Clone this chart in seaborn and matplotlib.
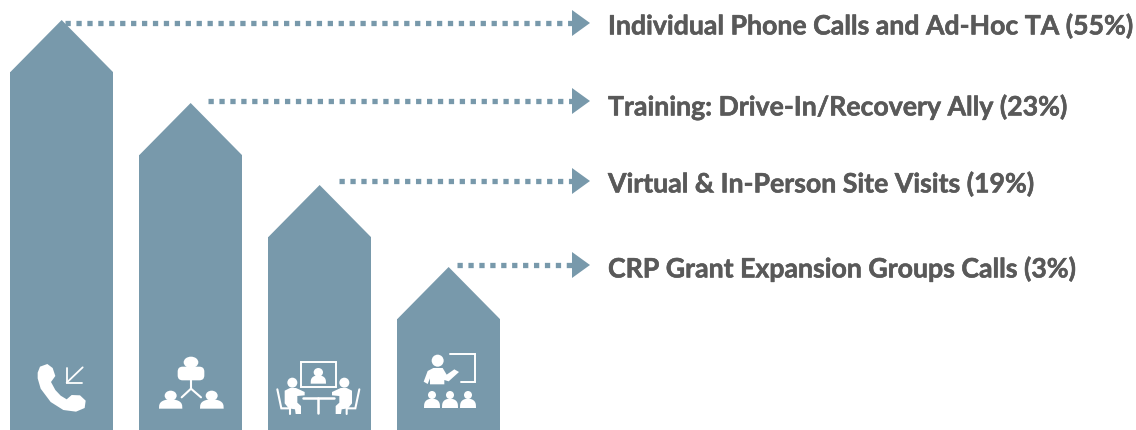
import matplotlib
matplotlib.use('Agg')
import matplotlib.pyplot as plt
import matplotlib.patheffects as pe
from matplotlib.patches import Ellipse, FancyBboxPatch, Polygon, Rectangle
import numpy as np
import pandas as pd
import seaborn as sns

activities = ['Individual Phone Calls and Ad-Hoc TA', 'Training: Drive-In/Recovery Ally',
              'Virtual & In-Person Site Visits', 'CRP Grant Expansion Groups Calls']
shares = [55, 23, 19, 3]
# arrow heights as drawn in the picture (they are not to scale with the shares)
tip_heights = [410, 327, 245, 163]

HEAD = 52
BLUE = '#7899AB'
GREY = '#595959'
WHITE = 'white'

sns.set_style('white')
plt.rcParams['font.family'] = ['Lato', 'Carlito', 'DejaVu Sans']

df = pd.DataFrame({'activity': activities, 'body': [t - HEAD for t in tip_heights]})

fig = plt.figure(figsize=(11.36, 4.30), dpi=100)
ax = fig.add_axes([0, 0, 1, 1])
sns.barplot(data=df, x='activity', y='body', color=BLUE, saturation=1, width=0.795, ax=ax,
            edgecolor=BLUE, linewidth=0)
ax.set_xlim(-0.478, 8.329)
ax.set_ylim(0, 430)
ax.axis('off')

# roofs on top of the bars, overlapping the body a little so no seam shows
for bar, tip in zip(ax.patches, tip_heights):
    x0 = bar.get_x()
    x1 = x0 + bar.get_width()
    base = tip - HEAD
    ax.fill([x0, (x0 + x1) / 2, x1, x1, x0], [base, tip, base, base - 2, base - 2], color=BLUE, lw=0)

# overlay in pixel coordinates for the leaders, text and icons
ov = fig.add_axes([0, 0, 1, 1], facecolor='none')
ov.set_xlim(0, 1136)
ov.set_ylim(430, 0)
ov.axis('off')

leader_x = [65, 208, 339, 457]
leader_y = [23, 101, 181, 265]
label_y = [26, 107, 184, 269]
for x, y, ty, name, share in zip(leader_x, leader_y, label_y, activities, shares):
    ov.plot([x, 573], [y, y], color=BLUE, lw=3.8, ls=(0, (1, 1.07)), dash_capstyle='butt')
    ov.add_patch(Polygon([(572, y - 13), (590, y), (572, y + 13)], color=BLUE, lw=0))
    ov.text(608, ty, f'{name} ({share}%)', color=GREY, fontsize=19.2, fontweight='bold',
            va='center', ha='left',
            path_effects=[pe.withStroke(linewidth=0.4, foreground=GREY)])


def px(points, ox, oy):
    # zoomed crop coordinates to picture pixels
    return [(ox + a / 3, oy + b / 3) for a, b in points]


def shape(points, ox, oy):
    ov.add_patch(Polygon(px(points, ox, oy), closed=True, color=WHITE, lw=0))


def stroke(points, ox, oy, lw=1.3):
    xy = np.array(px(points, ox, oy))
    ov.plot(xy[:, 0], xy[:, 1], color=WHITE, lw=lw, solid_capstyle='round', solid_joinstyle='miter')


def head(cx, cy, w, h, ox, oy):
    ov.add_patch(Ellipse((ox + cx / 3, oy + cy / 3), w / 3, h / 3, color=WHITE, lw=0))


def dome(x0, x1, top, bottom, ox, oy):
    t = np.linspace(np.pi, 0, 20)
    cx, rx = (x0 + x1) / 2, (x1 - x0) / 2
    pts = [(cx + rx * np.cos(a), bottom - (bottom - top) * np.sin(a) ** 0.6) for a in t]
    shape(pts, ox, oy)


def rounded(x0, x1, y0, y1, ox, oy, r=4):
    ov.add_patch(FancyBboxPatch((ox + x0 / 3 + r, oy + y0 / 3 + r), (x1 - x0) / 3 - 2 * r,
                                (y1 - y0) / 3 - 2 * r, boxstyle=f'round,pad={r}',
                                color=WHITE, lw=0))


# phone
o = (0, 340)
shape([(113, 98), (120, 80), (142, 72), (158, 84), (166, 108), (153, 126), (166, 150), (182, 167),
       (200, 178), (215, 165), (240, 166), (257, 182), (254, 204), (228, 215), (190, 210),
       (152, 186), (122, 146), (113, 115)], *o)
stroke([(248, 82), (200, 128)], *o)
stroke([(200, 85), (200, 128), (246, 128)], *o)

# network
head(573, 67, 44, 34, *o)
rounded(533, 613, 80, 121, *o, r=5)
stroke([(573, 120), (573, 146)], *o, lw=1.5)
stroke([(545, 172), (573, 146), (603, 172)], *o, lw=1.5)
head(512, 167, 36, 30, *o)
head(635, 167, 36, 30, *o)
dome(477, 547, 178, 206, *o)
dome(600, 671, 178, 206, *o)

# meeting
o = (260, 340)
ov.add_patch(Rectangle((o[0] + 123 / 3, o[1] + 67 / 3), 104 / 3, 73 / 3, fill=False, ec=WHITE, lw=1.4))
head(175, 97, 28, 26, *o)
dome(152, 198, 106, 131, *o)
stroke([(128, 175), (222, 175)], *o, lw=1.8)
stroke([(175, 175), (175, 220)], *o, lw=1.8)
for m in (False, True):
    f = (lambda p: [(350 - a, b) for a, b in p]) if m else (lambda p: p)
    head(350 - 97 if m else 97, 128, 30, 30, *o)
    shape(f([(74, 152), (90, 144), (108, 144), (134, 156), (134, 166), (112, 168), (112, 188), (123, 198),
             (123, 222), (107, 222), (105, 208), (86, 205), (74, 190)]), *o)
    stroke(f([(52, 148), (64, 205), (90, 205), (90, 222)]), *o, lw=1.5)

# trainer
stroke([(570, 42), (645, 42), (645, 127), (603, 127)], *o, lw=1.4)
head(533, 62, 36, 36, *o)
shape([(491, 125), (503, 93), (520, 84), (548, 84), (560, 104), (583, 88), (597, 96), (566, 124),
       (553, 120), (553, 133), (510, 133), (510, 115), (503, 132)], *o)
for cx in (516, 570, 624):
    head(cx, 165, 24, 24, *o)
    dome(cx - 24, cx + 24, 176, 204, *o)

fig.savefig('out.png', dpi=100, facecolor='white')
